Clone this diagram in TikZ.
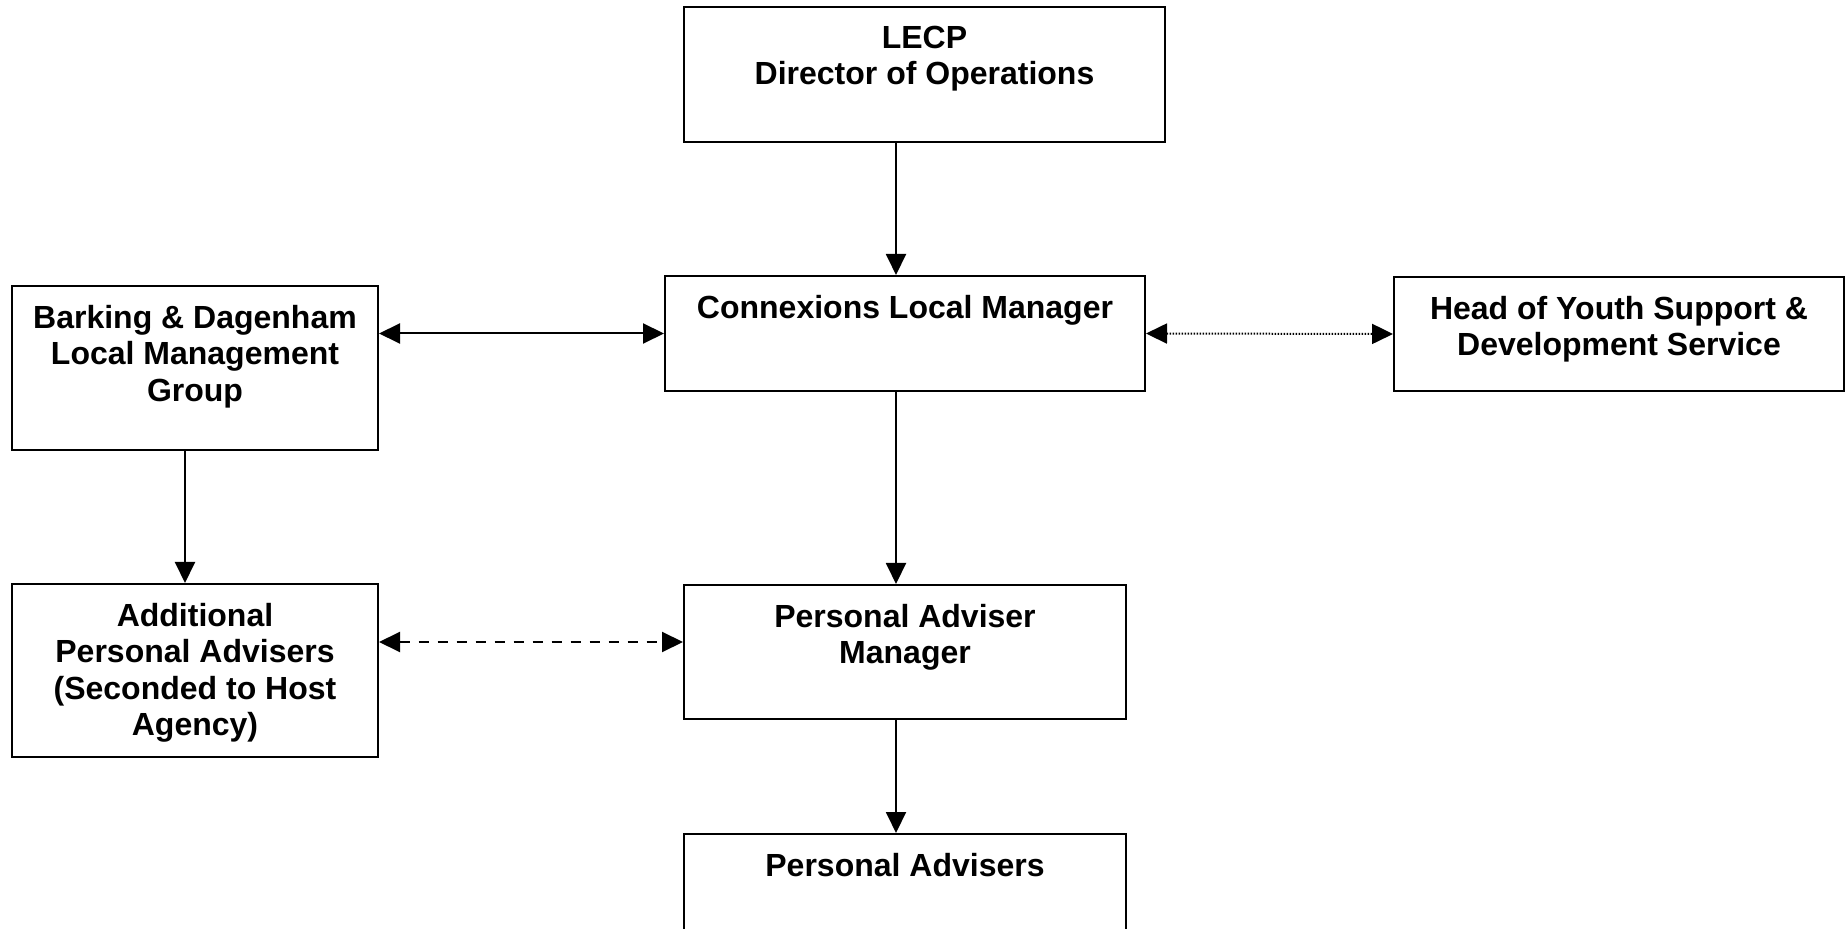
\documentclass[tikz,border=0pt]{standalone}
\usepackage{fontspec}
\setmainfont{Liberation Sans}
\usetikzlibrary{arrows.meta}
\begin{document}
\begin{tikzpicture}[x=0.5pt,y=-0.5pt,
  box/.style={draw=black,line width=1pt,fill=white,inner sep=0pt},
  txt/.style={anchor=north,inner sep=0pt,align=center,font=\fontsize{16pt}{18.3pt}\selectfont\bfseries},
  conn/.style={line width=1pt,-{Triangle[length=10.5pt,width=10pt]}},
  biconn/.style={line width=1pt,{Triangle[length=10.5pt,width=10pt]}-{Triangle[length=10.5pt,width=10pt]}},
  dashedline/.style={dash pattern=on 5pt off 4.5pt},
  dottedline/.style={dash pattern=on 0.75pt off 0.75pt}]
\useasboundingbox (0,0) rectangle (1845,929);
\clip (0,0) rectangle (1845,929);
\fill[white] (0,0) rectangle (1845,929);
% boxes
\node[box,minimum width=240.5pt,minimum height=67.5pt] (lecp) at (924.5,74.5) {};
\node[box,minimum width=240pt,minimum height=57.5pt] (clm) at (905,333.5) {};
\node[box,minimum width=225pt,minimum height=57pt] (head) at (1619,334) {};
\node[box,minimum width=183pt,minimum height=82pt] (bark) at (195,368) {};
\node[box,minimum width=183pt,minimum height=86.5pt] (addl) at (195,670.5) {};
\node[box,minimum width=221pt,minimum height=67pt] (pam) at (905,652) {};
\node[box,minimum width=221pt,minimum height=58pt] (pa) at (905,892) {};
% texts
\node[txt] (lecpT) at ([yshift=-9.8pt]lecp.north) {LECP\\Director of Operations};
\node[txt] (clmT) at ([yshift=-9.8pt]clm.north) {Connexions Local Manager};
\node[txt] (headT) at ([yshift=-9.8pt]head.north) {Head of Youth Support \&\\Development Service};
\node[txt] (barkT) at ([yshift=-9.8pt]bark.north) {Barking \& Dagenham\\Local Management\\Group};
\node[txt] (addlT) at ([yshift=-9.8pt]addl.north) {Additional\\Personal Advisers\\(Seconded to Host\\Agency)};
\node[txt] (pamT) at ([yshift=-9.8pt]pam.north) {Personal Adviser\\Manager};
\node[txt] (paT) at ([yshift=-9.8pt]pa.north) {Personal Advisers};
% helper coordinates
\coordinate (xc) at (896,0);
\coordinate (xl) at (185,0);
\coordinate (yd) at (0,642);
% connectors
\draw[conn] (xc |- lecp.south) -- (xc |- clm.north);
\draw[conn] (xc |- clm.south) -- (xc |- pam.north);
\draw[conn] (xc |- pam.south) -- (xc |- pa.north);
\draw[conn] (xl |- bark.south) -- (xl |- addl.north);
\draw[biconn] (bark.east |- clm.west) -- (clm.west);
\draw[biconn,dottedline] (clm.east) -- (head.west);
\draw[biconn,dashedline] (addl.east |- yd) -- (pam.west |- yd);
\end{tikzpicture}
\end{document}
